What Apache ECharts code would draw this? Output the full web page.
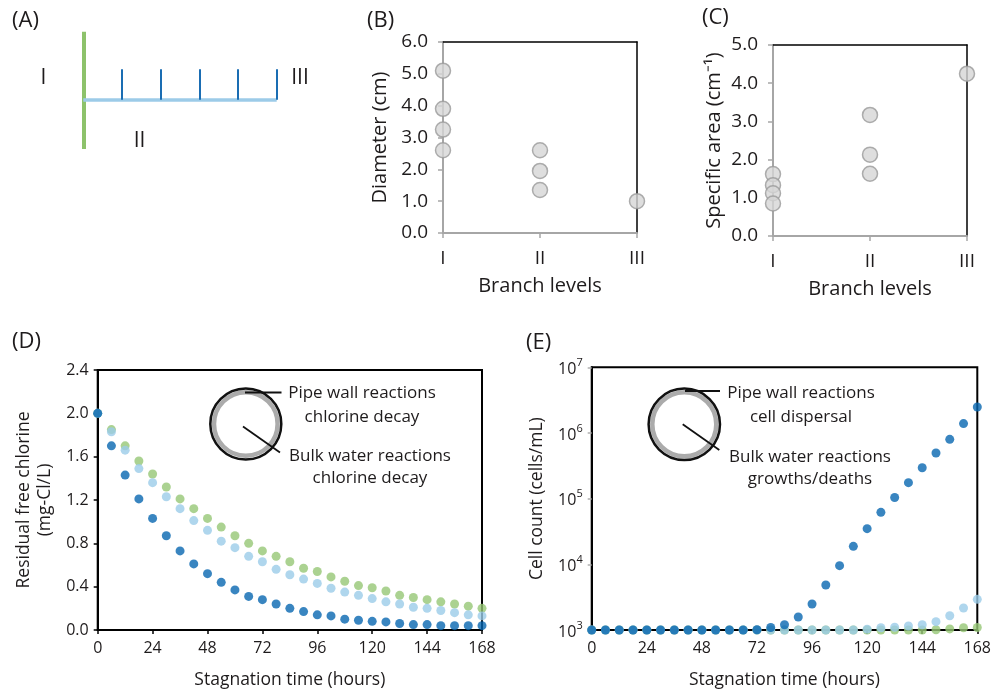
<!DOCTYPE html>
<html>
<head>
<meta charset="utf-8">
<script src="https://cdn.jsdelivr.net/npm/echarts@6.0.0/dist/echarts.min.js"></script>
<style>
  html, body { margin: 0; padding: 0; background: #fff; }
  #chart { width: 998px; height: 691px; }
</style>
</head>
<body>
<div id="chart"></div>
<script>
// ---- Branch schematic (A): positions in schematic units ----
const trunkSegment = [[0, -1.6], [0, 2.22]];
const branchSegment = [[0, 0], [5, 0]];
const twigPositions = [1, 2, 3, 4, 5];
const twigLength = 1;

// ---- Branch levels (B, C) ----
const branchLevels = ['I', 'II', 'III'];
const diameterI = [5.1, 3.9, 3.25, 2.6];
const diameterII = [2.6, 1.95, 1.35];
const diameterIII = [1.0];
const specificAreaI = [1.62, 1.33, 1.12, 0.85];
const specificAreaII = [3.17, 2.13, 1.63];
const specificAreaIII = [4.25];

// ---- Stagnation time series (D, E) ----
const hours = [0, 6, 12, 18, 24, 30, 36, 42, 48, 54, 60, 66, 72, 78, 84, 90, 96,
  102, 108, 114, 120, 126, 132, 138, 144, 150, 156, 162, 168];
const chlorineLevelIII = [2.00, 1.70, 1.43, 1.21, 1.03, 0.87, 0.73, 0.61, 0.52, 0.44, 0.37,
  0.31, 0.28, 0.24, 0.20, 0.17, 0.14, 0.13, 0.10, 0.09, 0.08, 0.075, 0.06, 0.05, 0.05,
  0.04, 0.04, 0.04, 0.04];
const chlorineLevelII = [2.00, 1.83, 1.66, 1.49, 1.36, 1.23, 1.12, 1.01, 0.92, 0.82, 0.76,
  0.68, 0.63, 0.56, 0.51, 0.47, 0.43, 0.385, 0.35, 0.32, 0.29, 0.26, 0.24, 0.21, 0.20,
  0.18, 0.16, 0.14, 0.13];
const chlorineLevelI = [2.00, 1.85, 1.70, 1.56, 1.44, 1.32, 1.21, 1.12, 1.03, 0.95, 0.87,
  0.80, 0.73, 0.68, 0.63, 0.57, 0.54, 0.49, 0.45, 0.41, 0.39, 0.36, 0.32, 0.30, 0.28,
  0.26, 0.24, 0.22, 0.20];
const cellsLevelIII = [1000, 1000, 1000, 1000, 1000, 1000, 1000, 1000, 1000, 1000, 1000,
  1000, 1010, 1090, 1200, 1580, 2490, 4840, 9550, 18800, 34900, 61900, 104000, 175000,
  296000, 495000, 800000, 1390000, 2490000];
const cellsLevelII = [1000, 1000, 1000, 1000, 1000, 1000, 1000, 1000, 1000, 1000, 1000,
  1000, 1000, 1000, 1000, 1000, 1000, 1000, 1000, 1000, 1030, 1080, 1100, 1150, 1200,
  1340, 1650, 2160, 2930];
const cellsLevelI = [1000, 1000, 1000, 1000, 1000, 1000, 1000, 1000, 1000, 1000, 1000,
  1000, 1000, 1000, 1000, 1000, 1000, 1000, 1000, 1000, 1000, 1000, 1000, 1000, 1000,
  1010, 1040, 1080, 1090];

const chlorineTicks = [0, 2.4, 0.4];
const hourTicks = [0, 168, 24];

const FONT = 'Open Sans';
const TXT = '#1e1b1c';
const GREEN = '#96c776';
const LIGHT = '#9bcce9';
const DARK = '#0866b0';
const GRAYAXIS = '#a6a6a6';

const chart = echarts.init(document.getElementById('chart'), null, { renderer: 'canvas' });

function pairs(xs, ys) { return xs.map((x, i) => [x, ys[i]]); }
function levelPoints(level, vals) { return vals.map(v => [level, v]); }

// Frame-only axis (top / right border of a panel)
function frameX(grid, type, extra) {
  return Object.assign({
    gridIndex: grid, type: type, position: 'top',
    axisLine: { show: true, onZero: false, lineStyle: { color: '#000', width: 1.5 } },
    axisTick: { show: false }, axisLabel: { show: false }, splitLine: { show: false }
  }, extra || {});
}
function frameY(grid, extra) {
  return Object.assign({
    gridIndex: grid, type: 'value', position: 'right', min: 0, max: 1,
    axisLine: { show: true, onZero: false, lineStyle: { color: '#000', width: 1.5 } },
    axisTick: { show: false }, axisLabel: { show: false }, splitLine: { show: false }
  }, extra || {});
}

const branchMarker = {
  type: 'scatter', symbolSize: 15, clip: false,
  itemStyle: { color: '#d6d6d6', borderColor: '#9a9a9a', borderWidth: 1.5 }
};
const dot = (color, xi, yi, data, z) => ({
  type: 'scatter', xAxisIndex: xi, yAxisIndex: yi, data: data, symbolSize: 9,
  clip: false, z: z, itemStyle: { color: color }
});

function levelAxisX(grid) {
  return {
    gridIndex: grid, type: 'category', data: branchLevels, boundaryGap: false,
    axisLine: { onZero: false, lineStyle: { color: GRAYAXIS, width: 2 } },
    axisTick: { show: true, alignWithLabel: true, length: 5, lineStyle: { color: GRAYAXIS, width: 1.5 } },
    axisLabel: { fontFamily: FONT, fontSize: 19, color: TXT, margin: 16 },
    name: 'Branch levels', nameLocation: 'middle', nameGap: 43,
    nameTextStyle: { fontFamily: FONT, fontSize: 20, color: TXT }
  };
}
function levelAxisY(grid, max, name, gap) {
  return {
    gridIndex: grid, type: 'value', min: 0, max: max, interval: 1,
    axisLine: { show: true, onZero: false, lineStyle: { color: GRAYAXIS, width: 2 } },
    axisTick: { show: true, length: 5, lineStyle: { color: GRAYAXIS, width: 1.5 } },
    splitLine: { show: false },
    axisLabel: { fontFamily: FONT, fontSize: 19, color: TXT, margin: 15, formatter: v => v.toFixed(1) },
    name: name, nameLocation: 'middle', nameGap: gap,
    nameTextStyle: { fontFamily: FONT, fontSize: 20, color: TXT }
  };
}
function hourAxis(grid) {
  return {
    gridIndex: grid, type: 'value', min: hourTicks[0], max: hourTicks[1], interval: hourTicks[2],
    axisLine: { onZero: false, lineStyle: { color: '#000', width: 2 } },
    axisTick: { show: true, length: 4, lineStyle: { color: '#000', width: 1.5 } },
    splitLine: { show: false },
    axisLabel: { fontFamily: FONT, fontSize: 16, color: TXT, margin: 10 },
    name: 'Stagnation time (hours)', nameLocation: 'middle', nameGap: 41,
    nameTextStyle: { fontFamily: FONT, fontSize: 17.5, color: TXT }
  };
}

const option = {
  animation: false,
  backgroundColor: '#fff',
  grid: [
    { left: 83.3, top: 31.7, width: 193.4, height: 117.3 },   // A
    { left: 443, top: 42, width: 194, height: 191 },           // B
    { left: 773, top: 45, width: 194, height: 191 },           // C
    { left: 97.7, top: 370, width: 384.3, height: 260, show: true, borderColor: '#000', borderWidth: 2 }, // D
    { left: 591.7, top: 367.3, width: 385.6, height: 262.7, show: true, borderColor: '#000', borderWidth: 2 } // E
  ],
  xAxis: [
    { gridIndex: 0, type: 'value', min: 0, max: 5, show: false },
    levelAxisX(1),
    levelAxisX(2),
    hourAxis(3),
    hourAxis(4),
    frameX(1, 'value', { min: 0, max: 1 }),
    frameX(2, 'value', { min: 0, max: 1 })
  ],
  yAxis: [
    { gridIndex: 0, type: 'value', min: -1.6, max: 2.22, show: false },
    levelAxisY(1, 6, 'Diameter (cm)', 53),
    levelAxisY(2, 5, 'Specific area (cm\u207B\u00B9)', 49),
    {
      gridIndex: 3, type: 'value', min: chlorineTicks[0], max: chlorineTicks[1], interval: chlorineTicks[2],
      axisLine: { onZero: false, lineStyle: { color: '#000', width: 2 } },
      axisTick: { show: true, length: 4, lineStyle: { color: '#000', width: 1.5 } },
      splitLine: { show: false },
      axisLabel: { fontFamily: FONT, fontSize: 16, color: TXT, margin: 9, formatter: v => v.toFixed(1) },
      name: 'Residual free chlorine\n(mg-Cl/L)', nameLocation: 'middle', nameGap: 42,
      nameTextStyle: { fontFamily: FONT, fontSize: 17.5, color: TXT, lineHeight: 21 }
    },
    {
      gridIndex: 4, type: 'log', logBase: 10, min: 1000, max: 10000000,
      axisLine: { onZero: false, lineStyle: { color: '#000', width: 2 } },
      axisTick: { show: true, length: 4, lineStyle: { color: '#b0b0b0', width: 1.5 } },
      splitLine: { show: false }, minorTick: { show: false },
      axisLabel: {
        fontFamily: FONT, color: TXT, margin: 9,
        formatter: v => '{b|10}{s|' + Math.round(Math.log10(v)) + '}',
        rich: {
          b: { fontFamily: FONT, fontSize: 16, color: TXT, lineHeight: 20, verticalAlign: 'bottom' },
          s: { fontFamily: FONT, fontSize: 11, color: TXT, lineHeight: 20, verticalAlign: 'top', padding: [0, 0, 6, 0] }
        }
      },
      name: 'Cell count (cells/mL)', nameLocation: 'middle', nameGap: 46,
      nameTextStyle: { fontFamily: FONT, fontSize: 17.5, color: TXT }
    },
    frameY(1),
    frameY(2)
  ],
  series: [
    // A: branch schematic
    {
      type: 'lines', coordinateSystem: 'cartesian2d', xAxisIndex: 0, yAxisIndex: 0,
      data: [{ coords: trunkSegment }],
      lineStyle: { color: '#8dc26b', width: 4, opacity: 1 }
    },
    {
      type: 'lines', coordinateSystem: 'cartesian2d', xAxisIndex: 0, yAxisIndex: 0,
      data: [{ coords: branchSegment }],
      lineStyle: { color: '#9ccbe8', width: 3.5, opacity: 1 }
    },
    {
      type: 'lines', coordinateSystem: 'cartesian2d', xAxisIndex: 0, yAxisIndex: 0,
      data: twigPositions.map(p => ({ coords: [[p, 0], [p, twigLength]] })),
      lineStyle: { color: '#1a6db3', width: 2, opacity: 1 }
    },
    // B: diameter
    Object.assign({ xAxisIndex: 1, yAxisIndex: 1,
      data: levelPoints('I', diameterI).concat(levelPoints('II', diameterII), levelPoints('III', diameterIII)) }, branchMarker),
    // C: specific area
    Object.assign({ xAxisIndex: 2, yAxisIndex: 2,
      data: levelPoints('I', specificAreaI).concat(levelPoints('II', specificAreaII), levelPoints('III', specificAreaIII)) }, branchMarker),
    // D: chlorine decay
    dot(GREEN, 3, 3, pairs(hours, chlorineLevelI), 3),
    dot(LIGHT, 3, 3, pairs(hours, chlorineLevelII), 4),
    dot(DARK, 3, 3, pairs(hours, chlorineLevelIII), 5),
    // E: cell count
    dot(GREEN, 4, 4, pairs(hours, cellsLevelI), 3),
    dot(LIGHT, 4, 4, pairs(hours, cellsLevelII), 4),
    dot(DARK, 4, 4, pairs(hours, cellsLevelIII), 5)
  ],
  graphic: [
    // panel letters
    { type: 'text', left: 12, top: 10, style: { text: '(A)', font: '22px "Open Sans"', fill: TXT } },
    { type: 'text', left: 367, top: 10, style: { text: '(B)', font: '22px "Open Sans"', fill: TXT } },
    { type: 'text', left: 702, top: 7, style: { text: '(C)', font: '22px "Open Sans"', fill: TXT } },
    { type: 'text', left: 12, top: 331, style: { text: '(D)', font: '22px "Open Sans"', fill: TXT } },
    { type: 'text', left: 526, top: 332, style: { text: '(E)', font: '22px "Open Sans"', fill: TXT } },
    // schematic level labels
    { type: 'text', style: { x: 43.5, y: 78, text: 'I', font: '21px "Open Sans"', fill: TXT, textAlign: 'center', textVerticalAlign: 'middle' } },
    { type: 'text', style: { x: 139.5, y: 141.5, text: 'II', font: '21px "Open Sans"', fill: TXT, textAlign: 'center', textVerticalAlign: 'middle' } },
    { type: 'text', style: { x: 300, y: 78, text: 'III', font: '21px "Open Sans"', fill: TXT, textAlign: 'center', textVerticalAlign: 'middle' } },

    // D inset: pipe cross-section
    { type: 'circle', shape: { cx: 245.8, cy: 424, r: 31.8 }, style: { fill: 'none', stroke: '#ababab', lineWidth: 4.5 }, z: 10 },
    { type: 'circle', shape: { cx: 245.8, cy: 424, r: 35.5 }, style: { fill: 'none', stroke: '#111', lineWidth: 2.5 }, z: 10 },
    { type: 'line', shape: { x1: 245, y1: 392.5, x2: 281.5, y2: 392.5 }, style: { stroke: '#111', lineWidth: 1.8 }, z: 11 },
    { type: 'line', shape: { x1: 243, y1: 426.5, x2: 280, y2: 452.5 }, style: { stroke: '#111', lineWidth: 1.8 }, z: 11 },
    { type: 'text', z: 11, style: { x: 362, y: 404.7, text: 'Pipe wall reactions\nchlorine decay', font: '17px "Open Sans"', lineHeight: 24, fill: TXT, textAlign: 'center', textVerticalAlign: 'middle' } },
    { type: 'text', z: 11, style: { x: 370, y: 467.5, text: 'Bulk water reactions\nchlorine decay', font: '17px "Open Sans"', lineHeight: 22, fill: TXT, textAlign: 'center', textVerticalAlign: 'middle' } },

    // E inset: pipe cross-section
    { type: 'circle', shape: { cx: 684.3, cy: 424.3, r: 32 }, style: { fill: 'none', stroke: '#ababab', lineWidth: 4.5 }, z: 10 },
    { type: 'circle', shape: { cx: 684.3, cy: 424.3, r: 35.7 }, style: { fill: 'none', stroke: '#111', lineWidth: 2.5 }, z: 10 },
    { type: 'line', shape: { x1: 685, y1: 391, x2: 720, y2: 391 }, style: { stroke: '#111', lineWidth: 1.8 }, z: 11 },
    { type: 'line', shape: { x1: 682.7, y1: 424.3, x2: 719.3, y2: 450 }, style: { stroke: '#111', lineWidth: 1.8 }, z: 11 },
    { type: 'text', z: 11, style: { x: 801, y: 405, text: 'Pipe wall reactions\ncell dispersal', font: '17px "Open Sans"', lineHeight: 24.6, fill: TXT, textAlign: 'center', textVerticalAlign: 'middle' } },
    { type: 'text', z: 11, style: { x: 810, y: 468, text: 'Bulk water reactions\ngrowths/deaths', font: '17px "Open Sans"', lineHeight: 22, fill: TXT, textAlign: 'center', textVerticalAlign: 'middle' } }
  ]
};

chart.setOption(option);
</script>
</body>
</html>
